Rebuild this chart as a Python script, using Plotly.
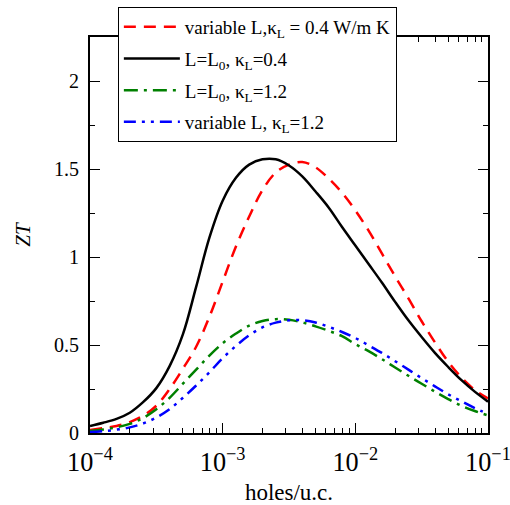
import plotly.graph_objects as go

# Sample positions (holes/u.c.), read along the log axis
holes = [1.0e-4, 1.259e-4, 1.585e-4, 1.995e-4, 2.512e-4, 3.162e-4, 3.981e-4, 5.012e-4, 6.310e-4, 7.943e-4,
         1.0e-3, 1.259e-3, 1.585e-3, 1.995e-3, 2.512e-3, 3.162e-3, 3.981e-3, 5.012e-3, 6.310e-3, 7.943e-3,
         1.0e-2, 1.259e-2, 1.585e-2, 1.995e-2, 2.512e-2, 3.162e-2, 3.981e-2, 5.012e-2, 6.310e-2, 7.943e-2,
         0.1]

# ZT values
zt_var_04 = [0.017, 0.028, 0.040, 0.062, 0.098, 0.155, 0.250, 0.365, 0.490, 0.660,
             0.860, 1.060, 1.230, 1.380, 1.480, 1.525, 1.540, 1.510, 1.445, 1.365,
             1.265, 1.150, 1.020, 0.890, 0.765, 0.635, 0.515, 0.405, 0.315, 0.245,
             0.197]
zt_L0_04 = [0.040, 0.058, 0.080, 0.115, 0.175, 0.255, 0.380, 0.560, 0.830, 1.110,
            1.320, 1.450, 1.525, 1.555, 1.555, 1.520, 1.458, 1.372, 1.280, 1.170,
            1.065, 0.960, 0.855, 0.745, 0.640, 0.545, 0.455, 0.375, 0.300, 0.235,
            0.178]
zt_L0_12 = [0.012, 0.020, 0.032, 0.052, 0.085, 0.135, 0.200, 0.280, 0.360, 0.440,
            0.510, 0.565, 0.610, 0.636, 0.647, 0.643, 0.628, 0.606, 0.580, 0.550,
            0.505, 0.465, 0.420, 0.372, 0.325, 0.280, 0.235, 0.193, 0.155, 0.125,
            0.100]
zt_var_12 = [0.005, 0.010, 0.019, 0.032, 0.054, 0.088, 0.135, 0.200, 0.270, 0.345,
             0.425, 0.495, 0.555, 0.600, 0.627, 0.640, 0.641, 0.628, 0.603, 0.574,
             0.540, 0.498, 0.455, 0.408, 0.360, 0.312, 0.265, 0.220, 0.180, 0.142,
             0.108]

names = [
    "variable L,κ<sub>L</sub> = 0.4 W/m K",
    "L=L<sub>0</sub>, κ<sub>L</sub>=0.4",
    "L=L<sub>0</sub>, κ<sub>L</sub>=1.2",
    "variable L, κ<sub>L</sub>=1.2",
]

FONT = "Liberation Serif, Times New Roman, Times, serif"

fig = go.Figure()
fig.add_trace(go.Scatter(x=holes, y=zt_var_04, mode="lines", name=names[0], legendgroup="a",
                         line=dict(color="#ff0000", width=2.5, dash="12px,8px", shape="spline")))
fig.add_trace(go.Scatter(x=holes, y=zt_L0_04, mode="lines", name=names[1], legendgroup="b",
                         line=dict(color="#000000", width=2.5, shape="spline")))
fig.add_trace(go.Scatter(x=holes, y=zt_L0_12, mode="lines", name=names[2], legendgroup="c",
                         line=dict(color="#008000", width=2.5, dash="14px,6px,3px,6px", shape="spline")))
fig.add_trace(go.Scatter(x=holes, y=zt_var_12, mode="lines", name=names[3], legendgroup="d",
                         line=dict(color="#0000ff", width=2.5, dash="12px,6px,3px,6px,3px,6px", shape="spline")))

fig.update_layout(
    width=510, height=505,
    margin=dict(l=90, r=22, t=37, b=72, autoexpand=False),
    paper_bgcolor="white", plot_bgcolor="white",
    font=dict(family=FONT, size=19, color="black"),
    showlegend=True,
    legend=dict(x=0.07, y=1.076, xanchor="left", yanchor="top",
                bgcolor="white", bordercolor="black", borderwidth=1,
                font=dict(family=FONT, size=19), tracegroupgap=4,
                itemwidth=56),
)
fig.update_xaxes(
    type="log", range=[-4, -1], dtick=1, exponentformat="power",
    showline=True, linecolor="black", linewidth=2, mirror="allticks",
    ticks="inside", ticklen=10, tickwidth=1, tickcolor="black",
    minor=dict(ticks="inside", ticklen=5, dtick="D1", tickcolor="black", showgrid=False),
    showgrid=False, zeroline=False, ticklabeloverflow="allow", ticklabelstandoff=6,
    tickfont=dict(family=FONT, size=21),
    title=dict(text="holes/u.c.", font=dict(family=FONT, size=23), standoff=10),
)
fig.update_yaxes(
    range=[0, 2.25], dtick=0.5, tick0=0,
    showline=True, linecolor="black", linewidth=2, mirror="allticks",
    ticks="inside", ticklen=10, tickwidth=1, tickcolor="black",
    minor=dict(ticks="inside", ticklen=5, dtick=0.25, tickcolor="black", showgrid=False),
    showgrid=False, zeroline=False, ticklabeloverflow="allow", ticklabelstandoff=5,
    tickfont=dict(family=FONT, size=20),
    title=dict(text="<i>ZT</i>", font=dict(family=FONT, size=21), standoff=18),
)

fig.write_html("out.html", config={"displayModeBar": False},
               post_script="document.body.style.margin='0';document.body.style.overflow='hidden';")
